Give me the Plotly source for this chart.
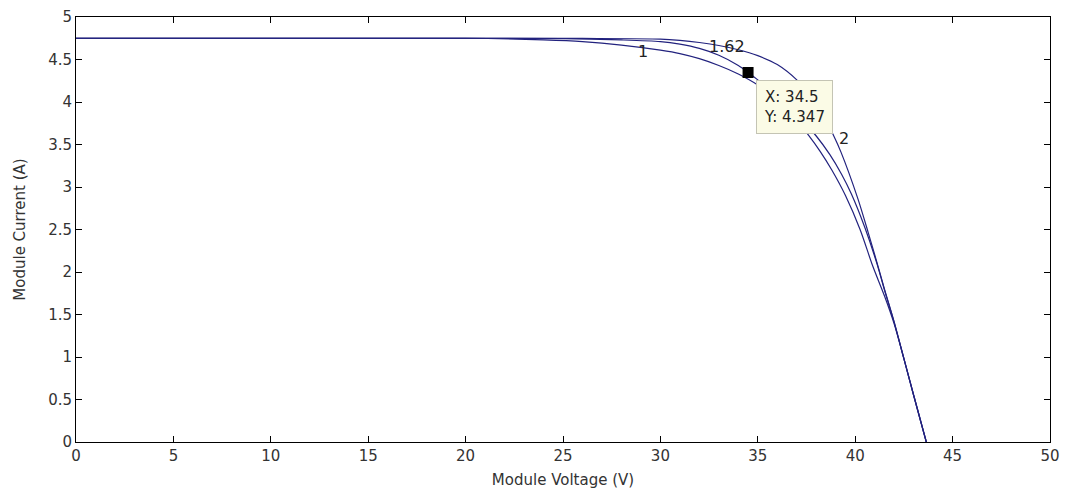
import plotly.graph_objects as go

# ---- data ----
v_outer = [0, 20, 26, 30, 31, 32, 33, 34, 35, 36, 37, 38, 38.86, 39.27, 40.14, 40.66, 41.17, 41.5, 42, 42.5, 43, 43.65]
i_outer = [4.75, 4.75, 4.748, 4.74, 4.725, 4.70, 4.665, 4.615, 4.545, 4.44, 4.26, 4.00, 3.62, 3.41, 2.86, 2.47, 2.07, 1.80, 1.41, 0.98, 0.55, 0]

v_middle = [0, 21, 25, 28, 30, 31, 32, 33, 34, 34.5, 35, 36, 37, 38, 38.7, 39.3, 39.8, 40.5, 41.1, 41.5, 42, 42.5, 43, 43.65]
i_middle = [4.75, 4.75, 4.745, 4.73, 4.71, 4.68, 4.63, 4.55, 4.43, 4.347, 4.26, 4.07, 3.85, 3.60, 3.38, 3.15, 2.92, 2.52, 2.11, 1.79, 1.41, 0.98, 0.55, 0]

v_inner = [0, 20, 24, 26, 28, 30, 31, 32, 33, 34, 35, 36, 37, 37.6, 38.2, 38.8, 39.5, 40.25, 40.9, 41.5, 42, 42.5, 43, 43.65]
i_inner = [4.75, 4.75, 4.73, 4.71, 4.67, 4.61, 4.57, 4.51, 4.43, 4.33, 4.20, 4.02, 3.78, 3.61, 3.42, 3.20, 2.90, 2.50, 2.07, 1.72, 1.39, 0.98, 0.55, 0]

label_texts = ["1", "1.62", "2"]
label_x = [29.1, 33.4, 39.4]
label_y = [4.59, 4.65, 3.57]

tip_x = 34.5
tip_y = 4.347

x_ticks = [0, 5, 10, 15, 20, 25, 30, 35, 40, 45, 50]
y_ticks = [0, 0.5, 1, 1.5, 2, 2.5, 3, 3.5, 4, 4.5, 5]

line_color = "#22227e"
font_family = "DejaVu Sans, Verdana, sans-serif"
text_color = "#333333"

fig = go.Figure()
for vx, iy in [(v_inner, i_inner), (v_middle, i_middle), (v_outer, i_outer)]:
    fig.add_trace(go.Scatter(x=vx, y=iy, mode="lines",
                             line=dict(color=line_color, width=1.2, shape="spline", smoothing=0.8),
                             showlegend=False, hoverinfo="skip"))

fig.add_trace(go.Scatter(x=[tip_x], y=[tip_y], mode="markers",
                         marker=dict(symbol="square", size=11, color="black"),
                         showlegend=False, hoverinfo="skip"))

for t, lx, ly in zip(label_texts, label_x, label_y):
    fig.add_annotation(x=lx, y=ly, text=t, showarrow=False,
                       font=dict(family=font_family, size=16, color="#222222"))

fig.add_annotation(x=tip_x, y=tip_y, text=f"X: {tip_x}<br>Y: {tip_y}", showarrow=False,
                   xanchor="left", yanchor="top", align="left", xshift=8, yshift=-7,
                   bgcolor="#fbfbe6", bordercolor="#c4c4b4", borderwidth=1, borderpad=7,
                   font=dict(family=font_family, size=15, color="#222222"))

axis_common = dict(showline=True, linecolor="black", linewidth=1, mirror="ticks",
                   ticks="inside", ticklen=6, tickcolor="black", showgrid=False, zeroline=False,
                   automargin=False,
                   tickfont=dict(family=font_family, size=15, color=text_color))

fig.update_layout(
    width=1066, height=493,
    margin=dict(l=76, r=16, t=17, b=51),
    paper_bgcolor="white", plot_bgcolor="white",
    xaxis=dict(range=[0, 50], tickvals=x_ticks, ticktext=[str(v) for v in x_ticks],
               title=dict(text="Module Voltage (V)", standoff=10,
                          font=dict(family=font_family, size=15, color=text_color)), **axis_common),
    yaxis=dict(range=[0, 5], tickvals=y_ticks, ticktext=[f"{v:g}" for v in y_ticks],
               title=dict(text="Module Current (A)", standoff=18,
                          font=dict(family=font_family, size=15, color=text_color)), **axis_common),
)

fig.write_html("out.html")
